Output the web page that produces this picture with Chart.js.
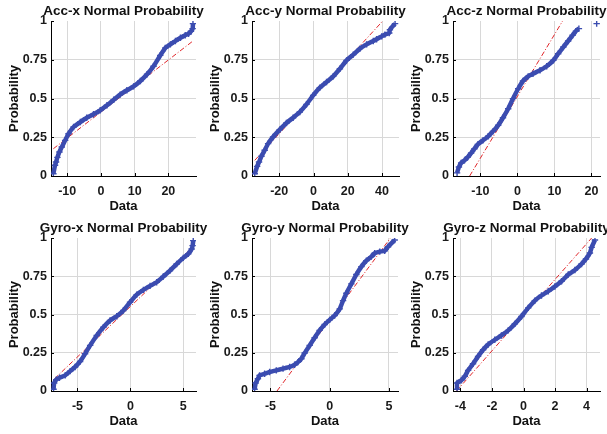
<!DOCTYPE html>
<html><head><meta charset="utf-8">
<script src="https://cdn.jsdelivr.net/npm/chart.js@4.4.0/dist/chart.umd.min.js"></script>
<style>
html,body{margin:0;padding:0;background:#fff;width:607px;height:434px;overflow:hidden;position:relative}
canvas{position:absolute}
</style></head><body>
<script>
// ---------- data ----------
const panelTitles = ["Acc-x Normal Probability","Acc-y Normal Probability","Acc-z Normal Probability",
                     "Gyro-x Normal Probability","Gyro-y Normal Probability","Gyro-z Normal Probability"];
const probTicks = [0, 0.25, 0.5, 0.75, 1];
const probTickLabels = ["0","0.25","0.5","0.75","1"];

const accX_x = [-14.1,-13.6,-13.3,-12.9,-12.3,-11.6,-10.6,-9.6,-8.1,-6.1,-4.2,-2.2,-0.2,1.8,3.8,5.7,7.7,9.7,11.7,13.7,15.6,17.6,19.1,20.6,22.1,23.6,25.0,26.0,26.7,27.2,27.3];
const accX_p = [0.015,0.069,0.09,0.12,0.155,0.187,0.23,0.273,0.316,0.348,0.376,0.398,0.424,0.456,0.492,0.525,0.553,0.578,0.613,0.656,0.708,0.778,0.826,0.849,0.871,0.892,0.908,0.918,0.933,0.951,0.983];
const accX_refX = [-14.1, 27.3];
const accX_refP = [0.176, 0.871];

const accY_x = [-34.3,-32.9,-31.8,-30.4,-28.5,-26.5,-23.6,-19.7,-15.8,-11.9,-8.0,-4.1,-0.2,3.7,7.6,11.5,15.4,19.3,23.2,27.1,31.0,34.9,36.8,39.8,41.7,44.2,44.6,47.6];
const accY_p = [0.015,0.062,0.09,0.127,0.166,0.209,0.252,0.299,0.342,0.376,0.413,0.462,0.52,0.57,0.606,0.643,0.692,0.746,0.783,0.822,0.849,0.871,0.882,0.901,0.912,0.923,0.944,0.983];
const accY_refX = [-34.3, 40.4];
const accY_refP = [0.101, 1.0];

const accZ_x = [-16.3,-15.8,-15.2,-14.3,-13.4,-12.5,-11.6,-10.7,-9.3,-7.9,-6.6,-5.2,-3.9,-2.5,-1.2,0.2,1.5,2.9,4.2,6.1,7.9,9.7,11.0,12.4,13.7,14.9,15.8,16.6,21.4];
const accZ_p = [0.02,0.058,0.084,0.101,0.123,0.148,0.176,0.204,0.23,0.256,0.288,0.327,0.376,0.434,0.499,0.563,0.613,0.643,0.66,0.682,0.708,0.746,0.789,0.832,0.871,0.908,0.935,0.951,0.983];
const accZ_refX = [-12.9, 12.2];
const accZ_refP = [0.0, 1.0];

const gyroX_x = [-7.26,-7.2,-7.0,-6.7,-6.16,-5.69,-5.22,-4.75,-4.28,-3.8,-3.18,-2.55,-1.92,-1.29,-0.66,-0.03,0.6,1.23,1.86,2.48,3.11,3.74,4.37,5.0,5.47,5.79,5.88,5.94];
const gyroX_p = [0.011,0.052,0.074,0.087,0.102,0.13,0.157,0.193,0.243,0.298,0.363,0.417,0.461,0.489,0.526,0.58,0.63,0.661,0.687,0.711,0.748,0.787,0.83,0.87,0.896,0.928,0.95,0.983];
const gyroX_refX = [-7.17, 5.94];
const gyroX_refP = [0.08, 0.943];

const gyroY_x = [-6.34,-6.25,-6.06,-5.92,-5.49,-5.07,-4.51,-3.94,-3.38,-2.96,-2.68,-2.39,-2.11,-1.69,-1.27,-0.85,-0.42,0.0,0.42,0.85,1.13,1.41,1.83,2.25,2.68,3.1,3.52,3.8,4.23,4.65,4.93,5.49];
const gyroY_p = [0.011,0.052,0.08,0.102,0.113,0.124,0.135,0.146,0.157,0.172,0.189,0.211,0.248,0.298,0.348,0.396,0.435,0.465,0.493,0.537,0.591,0.639,0.7,0.761,0.813,0.852,0.878,0.9,0.911,0.917,0.943,0.987];
const gyroY_refX = [-4.45, 5.13];
const gyroY_refP = [0.0, 1.0];

const gyroZ_x = [-4.21,-4.21,-3.94,-3.72,-3.51,-3.2,-2.88,-2.56,-2.24,-1.82,-1.4,-0.97,-0.55,-0.13,0.3,0.72,1.14,1.57,1.99,2.41,2.84,3.26,3.68,3.96,4.21,4.32,4.53];
const gyroZ_p = [0.011,0.052,0.07,0.096,0.135,0.178,0.226,0.27,0.304,0.335,0.363,0.396,0.439,0.487,0.543,0.591,0.624,0.652,0.683,0.717,0.761,0.791,0.83,0.863,0.902,0.939,0.987];
const gyroZ_refX = [-4.25, 4.32];
const gyroZ_refP = [0.0, 1.0];

const xLimits = [[-14.8,28.2],[-35.9,49.9],[-17.4,22.3],[-7.5,6.2],[-6.56,5.77],[-4.47,4.85]];
const xTicks = [[-10,0,10,20],[-20,0,20,40],[-10,0,10,20],[-5,0,5],[-5,0,5],[-4,-2,0,2,4]];

const seriesX = [accX_x, accY_x, accZ_x, gyroX_x, gyroY_x, gyroZ_x];
const seriesP = [accX_p, accY_p, accZ_p, gyroX_p, gyroY_p, gyroZ_p];
const refX = [accX_refX, accY_refX, accZ_refX, gyroX_refX, gyroY_refX, gyroZ_refX];
const refP = [accX_refP, accY_refP, accZ_refP, gyroX_refP, gyroY_refP, gyroZ_refP];

// ---------- layout (plot rectangles in page pixels) ----------
const plotRects = [
  {L:51, T:21, R:196, B:176},{L:252, T:21, R:399, B:176},{L:453, T:21, R:600, B:176},
  {L:51, T:238, R:196, B:391},{L:252, T:238, R:398, B:391},{L:453, T:238, R:600, B:391}
];
const YAXW = 51, XAXH = 42, TOPPAD = 21, RIGHTPAD = 14;
const BLUE = '#3b4cb0';

Chart.defaults.font.family = "'Liberation Sans', Arial, Helvetica, sans-serif";
Chart.defaults.color = '#1a1a1a';

const decorPlugin = {
  id: 'decor',
  afterDraw(chart, args, opts) {
    const {ctx, chartArea} = chart;
    const xs = chart.scales.x, ys = chart.scales.y;
    ctx.save();
    ctx.strokeStyle = '#000';
    ctx.lineWidth = 1;
    ctx.beginPath();
    xs.ticks.forEach(t => {
      const px = Math.round(xs.getPixelForValue(t.value)) + 0.5;
      ctx.moveTo(px, chartArea.bottom);
      ctx.lineTo(px, chartArea.bottom - 3);
    });
    ys.ticks.forEach(t => {
      const py = Math.round(ys.getPixelForValue(t.value)) + 0.5;
      ctx.moveTo(chartArea.left, py);
      ctx.lineTo(chartArea.left + 3, py);
    });
    ctx.stroke();
    ctx.fillStyle = '#111';
    ctx.font = "bold 13.5px 'Liberation Sans', Arial, sans-serif";
    ctx.textAlign = 'center';
    ctx.textBaseline = 'middle';
    ctx.fillText(opts.title, (chartArea.left + chartArea.right) / 2, chartArea.top - 10);
    ctx.restore();
  }
};

plotRects.forEach((r, i) => {
  const cv = document.createElement('canvas');
  const left = r.L - YAXW, top = r.T - TOPPAD;
  const w = (r.R - r.L) + YAXW + RIGHTPAD;
  const h = (r.B - r.T) + TOPPAD + XAXH;
  cv.style.left = left + 'px'; cv.style.top = top + 'px';
  cv.style.width = w + 'px'; cv.style.height = h + 'px';
  cv.width = w; cv.height = h;
  document.body.appendChild(cv);

  const pts = seriesX[i].map((x, k) => ({x: x, y: seriesP[i][k]}));
  const ref = refX[i].map((x, k) => ({x: x, y: refP[i][k]}));

  new Chart(cv, {
    type: 'scatter',
    data: {
      datasets: [
        { data: ref, showLine: true, borderColor: '#e0262a', borderWidth: 1, borderDash: [5, 2, 1, 2],
          pointRadius: 0, fill: false, order: 2 },
        { data: pts, showLine: true, borderColor: BLUE, borderWidth: 4.5, tension: 0.15,
          segment: { borderColor: c => Math.hypot(c.p1.x - c.p0.x, c.p1.y - c.p0.y) > 14 ? 'rgba(0,0,0,0)' : BLUE },
          pointStyle: 'cross', pointRadius: 3.2, pointBorderWidth: 1.4, pointBorderColor: BLUE,
          pointBackgroundColor: BLUE, fill: false, order: 1 }
      ]
    },
    options: {
      responsive: false, animation: false, devicePixelRatio: 1,
      layout: { padding: { top: TOPPAD, right: RIGHTPAD, left: 0, bottom: 0 } },
      plugins: { legend: { display: false }, tooltip: { enabled: false }, decor: { title: panelTitles[i] } },
      scales: {
        x: {
          type: 'linear', min: xLimits[i][0], max: xLimits[i][1],
          afterBuildTicks: s => { s.ticks = xTicks[i].map(v => ({value: v})); },
          afterFit: s => { s.height = XAXH; },
          grid: { color: '#d8d8d8', lineWidth: 1, drawTicks: false },
          border: { display: true, color: '#000', width: 1 },
          ticks: { padding: 8, font: { size: 12.5, weight: 'bold' }, color: '#1a1a1a',
                   callback: v => String(v) },
          title: { display: true, text: 'Data', font: { size: 13, weight: 'bold' }, color: '#111',
                   padding: { top: 0, bottom: 3.7 } }
        },
        y: {
          type: 'linear', min: 0, max: 1,
          afterBuildTicks: s => { s.ticks = probTicks.map(v => ({value: v})); },
          afterFit: s => { s.width = YAXW; },
          grid: { color: ctx => (ctx.tick && ctx.tick.value === 1) ? 'rgba(0,0,0,0)' : '#d8d8d8',
                  lineWidth: 1, drawTicks: false },
          border: { display: true, color: '#000', width: 1 },
          ticks: { padding: 4, font: { size: 12.5, weight: 'bold' }, color: '#1a1a1a',
                   callback: v => probTickLabels[probTicks.indexOf(v)] },
          title: { display: true, text: 'Probability', font: { size: 13, weight: 'bold' }, color: '#111',
                   padding: { top: 6.3, bottom: 0 } }
        }
      }
    },
    plugins: [decorPlugin]
  });
});
</script>
</body></html>
